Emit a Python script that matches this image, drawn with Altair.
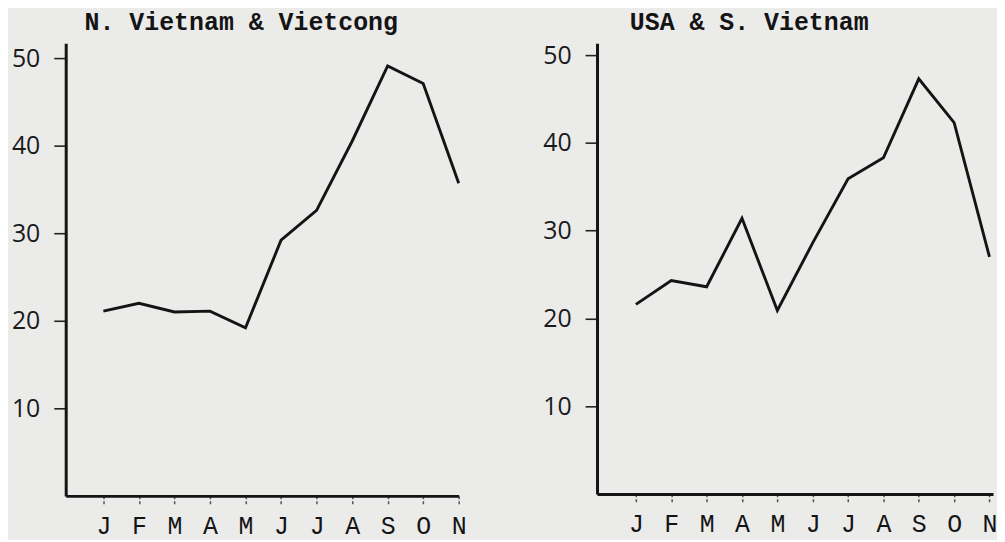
import altair as alt
import pandas as pd

# ---- data ----
months = ["J", "F", "M", "A", "M", "J", "J", "A", "S", "O", "N"]
month_idx = list(range(len(months)))
nv_vc = [21.1, 22.0, 21.0, 21.1, 19.2, 29.2, 32.6, 40.5, 49.1, 47.1, 35.7]
usa_sv = [21.6, 24.3, 23.6, 31.4, 20.9, 28.6, 35.9, 38.3, 47.3, 42.3, 27.0]
y_ticks = [10, 20, 30, 40, 50]
titles = ["N. Vietnam & Vietcong", "USA & S. Vietnam"]

label_expr = "[" + ",".join(f"'{m}'" for m in months) + "][datum.value]"

INK = "#141414"


def panel(values, title, dx, xdom, ydom, width, height):
    df = pd.DataFrame({"m": month_idx, "v": values})
    x_axis = alt.Axis(
        values=month_idx, labelExpr=label_expr, title=None, grid=False,
        domainColor=INK, domainWidth=3, tickColor="#555", tickWidth=1.5,
        tickSize=10, tickDash=[3, 2], labelPadding=8,
        labelFont="Liberation Mono", labelFontSize=25, labelColor=INK,
        labelFlush=False, labelOverlap=False,
    )
    y_axis = alt.Axis(
        values=y_ticks, title=None, grid=False,
        domainColor=INK, domainWidth=3, tickColor="#222", tickWidth=1.6,
        tickSize=12, labelPadding=14, minExtent=58,
        labelFont="Open Sans", labelFontWeight="normal", labelFontSize=25,
        labelColor="#1a1a1a", labelFlush=False,
    )
    line = alt.Chart(df).mark_line(color=INK, strokeWidth=2.9).encode(
        x=alt.X("m:Q", scale=alt.Scale(domain=xdom, nice=False, zero=False), axis=x_axis),
        y=alt.Y("v:Q", scale=alt.Scale(domain=ydom, nice=False, zero=False), axis=y_axis),
    )
    return line.properties(
        width=width, height=height,
        title=alt.TitleParams(
            title, anchor="start", frame="group", dx=dx, offset=8,
            font="Liberation Mono", fontSize=25, fontWeight="bold", color=INK,
        ),
    )


left = panel(nv_vc, titles[0], 19, [-1.06, 10.0], [0, 51.7], 395, 455)
right = panel(usa_sv, titles[1], 33, [-1.1, 10.1], [0, 51.36], 398, 453)

chart = alt.hconcat(left, right, spacing=73, padding=0, background="#ebebea").configure_view(
    stroke=None
)

chart.save("out.html", embed_options={"renderer": "svg", "actions": False})
